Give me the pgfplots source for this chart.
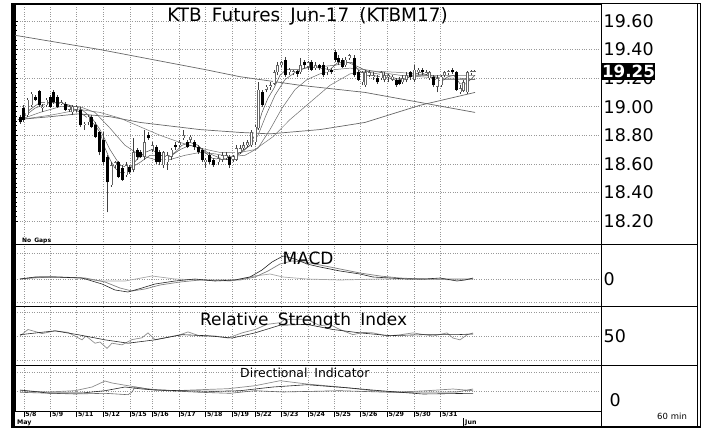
\documentclass[border=0pt]{standalone}
\usepackage{fontspec}
\setmainfont{DejaVu Sans}
\usepackage{pgfplots}
\pgfplotsset{compat=1.18}
\usepackage{pgfplotstable}

% 60-minute candles: x (bar position), open, high, low, close, t (1 = up / hollow)
\pgfplotstableread{
x o h l c t
20 18.93 18.94 18.88 18.89 0
23.5 18.99 19.01 18.89 18.91 0
27 18.94 19.06 18.93 19.05 1
31 19.01 19.10 19.00 19.09 1
35 19.07 19.08 19.04 19.05 0
39 19.11 19.12 19.00 19.01 0
42.5 18.99 19.02 18.96 19.00 1
46 19.01 19.06 19.00 19.05 1
50 19.07 19.08 18.99 19.00 0
53.5 19.10 19.12 19.02 19.03 0
57 19.07 19.08 18.99 19.00 0
61 19.02 19.05 19.01 19.03 1
65 19.02 19.03 18.97 18.98 0
69 18.98 19.01 18.96 19.00 1
72.5 18.96 19.01 18.94 19.00 1
76 18.98 19.01 18.96 19.00 1
80 18.98 19.00 18.86 18.87 0
84 18.87 18.89 18.84 18.88 1
88 18.89 18.94 18.87 18.93 1
91.5 18.93 18.94 18.85 18.86 0
95.5 18.87 18.89 18.78 18.79 0
99.5 18.82 18.83 18.66 18.68 0
103 18.77 18.82 18.59 18.61 0
107 18.65 18.66 18.26 18.47 0
111 18.45 18.61 18.44 18.59 1
115 18.59 18.62 18.57 18.61 1
118.5 18.61 18.62 18.50 18.51 0
122.5 18.57 18.59 18.48 18.49 0
126 18.52 18.61 18.51 18.59 1
129.5 18.58 18.59 18.53 18.54 0
133.5 18.56 18.78 18.54 18.68 1
137 18.70 18.71 18.63 18.65 0
140.5 18.68 18.70 18.64 18.65 0
144.5 18.65 18.84 18.63 18.75 1
148.5 18.80 18.82 18.77 18.78 0
152 18.70 18.75 18.68 18.73 1
156 18.72 18.73 18.60 18.61 0
159.5 18.68 18.70 18.59 18.61 0
163.5 18.59 18.69 18.57 18.68 1
167 18.61 18.68 18.56 18.66 1
171 18.65 18.71 18.63 18.70 1
175 18.73 18.75 18.70 18.72 0
179 18.73 18.77 18.72 18.75 1
183 18.78 18.84 18.77 18.80 1
187 18.75 18.77 18.71 18.72 0
190.5 18.77 18.80 18.75 18.79 1
194.5 18.75 18.77 18.70 18.72 0
198.5 18.72 18.73 18.67 18.68 0
202 18.70 18.71 18.61 18.63 0
205.5 18.61 18.64 18.57 18.63 1
209.5 18.66 18.68 18.60 18.61 0
213.5 18.63 18.64 18.58 18.59 0
218 18.61 18.66 18.59 18.64 1
222 18.63 18.68 18.61 18.66 1
226 18.64 18.68 18.63 18.66 1
229.5 18.65 18.66 18.57 18.59 0
233 18.63 18.66 18.61 18.65 1
236 18.63 18.73 18.62 18.71 1
240 18.68 18.73 18.67 18.71 1
243.5 18.71 18.75 18.70 18.73 1
247.5 18.73 18.77 18.72 18.75 1
251.5 18.73 18.84 18.72 18.82 1
255 18.75 18.87 18.73 18.86 1
258.5 18.85 19.17 18.84 19.12 1
262 19.10 19.12 19.00 19.01 0
266 19.12 19.15 19.10 19.14 1
270 19.14 19.17 19.12 19.15 1
274 19.16 19.26 19.15 19.24 1
277.5 19.24 19.31 19.22 19.29 1
281.5 19.29 19.32 19.28 19.31 1
285 19.33 19.35 19.21 19.22 0
289 19.24 19.27 19.22 19.26 1
293 19.24 19.26 19.22 19.25 1
297 19.25 19.26 19.21 19.23 0
300.5 19.24 19.34 19.23 19.29 1
304 19.31 19.33 19.27 19.29 0
308 19.28 19.32 19.26 19.31 1
311.5 19.31 19.33 19.25 19.26 0
315.5 19.27 19.31 19.26 19.29 1
319.5 19.29 19.30 19.26 19.27 0
323.5 19.29 19.31 19.21 19.22 0
327 19.24 19.28 19.22 19.26 1
331 19.26 19.27 19.23 19.24 0
335 19.38 19.40 19.31 19.33 0
338.5 19.34 19.36 19.29 19.31 0
342 19.33 19.34 19.27 19.28 0
345.5 19.29 19.35 19.28 19.33 1
349 19.34 19.37 19.33 19.36 1
354 19.34 19.36 19.21 19.22 0
358 19.24 19.26 19.18 19.19 0
362 19.17 19.25 19.15 19.24 1
365.5 19.15 19.26 19.14 19.24 1
369 19.22 19.26 19.21 19.24 1
373 19.21 19.24 19.19 19.22 1
377 19.20 19.22 19.16 19.17 0
381 19.20 19.25 19.19 19.24 1
384.5 19.19 19.24 19.17 19.22 1
388.5 19.21 19.23 19.17 19.22 1
392.5 19.19 19.22 19.18 19.21 1
396 19.19 19.20 19.14 19.15 0
399.5 19.19 19.21 19.15 19.16 0
402.5 19.17 19.22 19.16 19.20 1
406.5 19.19 19.24 19.17 19.22 1
410 19.24 19.25 19.19 19.21 0
414.5 19.19 19.29 19.17 19.26 1
418.5 19.24 19.27 19.22 19.26 1
422 19.26 19.27 19.22 19.24 0
426 19.23 19.26 19.22 19.24 1
429.5 19.20 19.25 19.19 19.24 1
433.5 19.21 19.22 19.14 19.15 0
437 19.14 19.22 19.10 19.20 1
441 19.15 19.22 19.14 19.21 1
444.5 19.22 19.25 19.21 19.24 1
448.5 19.24 19.26 19.22 19.25 1
452.5 19.26 19.27 19.23 19.24 0
456 19.24 19.25 19.11 19.12 0
460 19.10 19.15 19.09 19.13 1
463.5 19.11 19.19 19.10 19.17 1
467.5 19.10 19.25 19.09 19.24 1
471.5 19.24 19.26 19.22 19.25 1
474.5 19.24 19.26 19.24 19.25 1
}\candles

\pgfplotsset{
  panel/.style={
    scale only axis, anchor=south west, width=586bp,
    xmin=15, xmax=601,
    xtick={24,50.7,76.7,103.3,130,152,179,205.7,232.3,255,281.7,308.3,334.3,360.7,387.3,414,440.7},
    grid=major,
    major grid style={dotted, black!40, line width=0.5bp},
    axis line style={black, line width=0.8bp},
    ytick pos=left, yticklabel pos=right,
    tick label style={font=\fontsize{17.5}{18}\selectfont},
    yticklabel style={inner sep=0pt, xshift=2.5bp},
    xtick style={draw=none},
    ytick style={draw=none},
  },
  nolabels/.style={xticklabels={,,,,,,,,,,,,,,,,,,}},
  candle/.style={forget plot, draw=none, mark=none,
    error bars/.cd, y dir=plus, y explicit, error mark=none},
}

\begin{document}
\begin{tikzpicture}[x=1bp,y=1bp]
\useasboundingbox (0,0) rectangle (706,428);

% ---------------- main price panel ----------------
\begin{axis}[panel, nolabels, at={(15bp,184bp)}, height=240bp,
  ymin=18.039, ymax=19.719,
  ytick={18.2,18.4,18.6,18.8,19.0,19.2,19.4,19.6},
  yticklabels={18.20,18.40,18.60,18.80,19.00,19.20,19.40,19.60},
  minor y tick num=5,
  ytick style={draw=black, line width=0.6bp},
  tick align=inside, major tick length=3bp, minor tick length=2bp,
]
% long moving averages
\addplot[black!60, line width=0.7bp] coordinates {(15,19.50) (100,19.40) (205,19.26) (240,19.21) (300,19.15) (365,19.10) (420,19.03) (475,18.96)};
\addplot[black!60, line width=0.7bp] coordinates {(18,18.91) (50,18.93) (78,18.95) (110,18.93) (140,18.89) (200,18.84) (240,18.82) (270,18.81) (320,18.84) (365,18.89) (420,19.01) (475,19.10)};
% shorter moving averages
\addplot[black!55, line width=0.5bp] coordinates {(20,18.91) (50,18.94) (80,18.98) (100,18.96) (120,18.92) (140,18.86) (160,18.80) (180,18.75) (200,18.71) (220,18.68) (240,18.68) (255,18.70) (273,18.79) (290,18.91) (310,19.03) (330,19.15) (350,19.23) (370,19.25) (400,19.24) (430,19.22) (460,19.22) (475,19.22)};
\addplot[black!60, line width=0.5bp] coordinates {(20,18.91) (40,18.96) (60,19.00) (80,19.00) (95,18.96) (110,18.85) (125,18.73) (140,18.66) (155,18.63) (170,18.63) (185,18.66) (200,18.68) (215,18.67) (230,18.65) (245,18.66) (258,18.71) (270,18.84) (282,18.99) (295,19.12) (307,19.19) (320,19.23) (335,19.26) (350,19.27) (365,19.26) (380,19.24) (400,19.22) (420,19.21) (440,19.20) (460,19.20) (475,19.19)};
\addplot[black!65, line width=0.5bp] coordinates {(20,18.91) (35,18.99) (50,19.03) (65,19.02) (80,18.99) (92,18.92) (100,18.84) (110,18.70) (120,18.59) (130,18.57) (140,18.61) (150,18.66) (160,18.66) (170,18.65) (180,18.70) (190,18.73) (200,18.71) (210,18.67) (220,18.64) (230,18.63) (240,18.67) (250,18.73) (258,18.80) (266,18.94) (275,19.08) (285,19.19) (295,19.24) (305,19.27) (320,19.28) (335,19.29) (348,19.31) (358,19.28) (370,19.24) (385,19.22) (400,19.19) (415,19.22) (430,19.22) (445,19.19) (460,19.19) (475,19.19)};
\addplot[black!70, line width=0.5bp] coordinates {(20,18.91) (30,18.98) (40,19.03) (50,19.03) (60,19.03) (70,19.00) (80,18.96) (88,18.92) (95,18.87) (100,18.82) (105,18.71) (110,18.63) (115,18.57) (120,18.54) (126,18.54) (132,18.59) (138,18.64) (145,18.68) (152,18.70) (160,18.66) (168,18.65) (175,18.68) (182,18.73) (190,18.75) (198,18.73) (205,18.68) (212,18.64) (220,18.63) (228,18.63) (236,18.66) (244,18.70) (250,18.73) (256,18.82) (262,18.96) (268,19.06) (274,19.13) (280,19.22) (286,19.26) (292,19.26) (300,19.26) (310,19.28) (320,19.27) (330,19.26) (338,19.31) (345,19.31) (352,19.31) (358,19.26) (365,19.22) (372,19.22) (380,19.21) (390,19.20) (398,19.18) (405,19.19) (412,19.22) (420,19.24) (428,19.22) (436,19.19) (442,19.18) (448,19.21) (454,19.22) (460,19.16) (466,19.16) (472,19.20) (475,19.22)};
% wicks
\addplot[candle, error bar style={draw=black!75, line width=0.7bp}]
  table[x=x, y=l, y error expr=\thisrow{h}-\thisrow{l}] {\candles};
% bodies of down candles
\addplot[restrict expr to domain={\thisrow{t}}{-0.5:0.5}, candle, error bar style={draw=black, line width=3bp}]
  table[x=x, y expr={min(\thisrow{o},\thisrow{c})}, y error expr={abs(\thisrow{o}-\thisrow{c})}] {\candles};
% bodies of up candles (hollow)
\addplot[restrict expr to domain={\thisrow{t}}{0.5:1.5}, candle, error bar style={draw=black!60, line width=3bp}]
  table[x=x, y expr={min(\thisrow{o},\thisrow{c})}, y error expr={abs(\thisrow{o}-\thisrow{c})}] {\candles};
\addplot[restrict expr to domain={\thisrow{t}}{0.5:1.5}, candle, error bar style={draw=white, line width=1.4bp}]
  table[x=x, y expr={min(\thisrow{o},\thisrow{c})+0.004}, y error expr={abs(\thisrow{o}-\thisrow{c})-0.008}] {\candles};
\end{axis}

% ---------------- MACD ----------------
\begin{axis}[panel, nolabels, at={(15bp,122bp)}, height=62bp,
  ymin=-27, ymax=35, ytick={-23,0,26}, yticklabels={,0,}]
\addplot[black!35, line width=0.7bp] coordinates {(20,0) (50,2) (80,1) (102,-2) (125,-2) (152,3) (175,0) (200,-1) (230,-2) (255,3) (270,5) (283,2) (307,0) (340,-1) (380,0) (420,0) (460,-1) (473,0)};
\addplot[black!50, line width=0.7bp] coordinates {(20,0) (40,2) (60,2) (85,1) (105,-3) (120,-9) (132,-12) (145,-10) (160,-6) (180,-3) (200,-1) (220,-1) (240,-1) (255,2) (268,8) (280,15) (292,18) (305,17) (320,14) (340,10) (360,6) (380,3) (400,1) (420,0) (440,0) (460,0) (473,0)};
\addplot[black!85, line width=0.6bp] coordinates {(20,0) (35,2) (55,2) (82,1) (102,-5) (115,-11) (128,-13) (142,-9) (155,-5) (175,-2) (195,0) (215,-2) (235,-1) (250,2) (262,9) (272,17) (283,23) (295,20) (307,15) (320,12) (340,8) (360,5) (373,2) (390,1) (407,0) (425,0) (440,1) (457,-2) (465,-1) (473,1)};
\end{axis}

% ---------------- RSI ----------------
\begin{axis}[panel, nolabels, at={(15bp,63bp)}, height=59bp,
  ymin=25.83, ymax=75, ytick={30,50,70}, yticklabels={,50,}]
\addplot[black!45, line width=0.7bp] coordinates {(20,50) (28,55.4) (34,54) (42,52) (55,54.3) (68,53) (82,46.8) (86,50) (95,44) (100,45) (107,39.7) (112,44) (122,42.6) (132,47) (142,48.5) (148,52.6) (155,47) (165,48.5) (180,51) (188,53.4) (200,50) (215,50) (228,48.3) (242,52.6) (255,55.4) (267,59.7) (280,61.1) (285,63.9) (307,63.9) (320,58.6) (330,59.5) (340,55.4) (353,51.1) (363,53) (373,52.6) (387,50) (400,51) (413,52.6) (425,51) (433,50) (447,52.6) (453,48.3) (460,46.8) (467,51) (473,52.6)};
\addplot[black!85, line width=0.6bp] coordinates {(20,51.1) (55,54.3) (78,51.1) (105,46.8) (128,44) (155,46.8) (182,51.1) (208,50.2) (232,48.3) (255,52.6) (280,59) (307,59.7) (333,55.4) (360,52.6) (390,50.3) (423,51.1) (457,51.1) (473,51.7)};
\end{axis}

% ---------------- Directional Indicator ----------------
\begin{axis}[panel, at={(15bp,17bp)}, height=46bp,
  ymin=-11, ymax=35, ytick={9,28}, yticklabels={,},
  extra y ticks={0}, extra y tick labels={0}, extra y tick style={grid=none},
  xtick pos=left, tick align=outside, major tick length=6bp,
  xtick style={draw=black, line width=0.6bp},
  xticklabels={5/8,5/9,5/11,5/12,5/15,5/16,5/17,5/18,5/19,5/22,5/23,5/24,5/25,5/26,5/29,5/30,5/31},
  xticklabel style={font=\fontsize{6.3}{6.5}\selectfont\bfseries, anchor=north west, inner sep=0pt, xshift=1.2bp, yshift=5bp},
]
\addplot[black!45, line width=0.7bp] coordinates {(20,9.3) (48,8) (75,9.3) (92,13) (105,19) (112,17) (128,14.3) (148,11) (175,9.3) (200,10.3) (228,11.3) (255,14.3) (280,19.3) (307,16) (340,13) (373,9.3) (400,8) (427,9.3) (453,11) (473,9.3)};
\addplot[black!60, line width=0.6bp] coordinates {(20,7.7) (75,6) (105,6.7) (128,5.3) (132,8) (135,13) (155,10) (200,7.7) (230,6.7) (255,9.3) (283,8) (340,9.3) (390,7.7) (457,8) (473,11)};
\addplot[black!85, line width=0.6bp] coordinates {(20,10) (48,7) (82,7) (105,9.3) (125,13) (142,11) (155,10) (182,9.3) (215,8.7) (240,9.3) (273,13) (307,15.3) (350,12) (380,9.3) (423,6) (473,6.7)};
\end{axis}

% ---------------- frame and texts ----------------
\draw[line width=1.6bp] (12,1.3) -- (701,1.3);
\draw[line width=1.6bp] (12,424.6) -- (701,424.6);
\draw[line width=3.5bp] (12.8,0.5) -- (12.8,425.4);
\draw[line width=1bp] (697.8,1.3) -- (697.8,424.6);
\draw[line width=1bp] (700.8,0.5) -- (700.8,425.4);
\draw[line width=0.8bp] (601,1.3) -- (601,424.6);
\draw[line width=0.8bp] (601,184) -- (698,184);
\draw[line width=0.8bp] (601,122) -- (698,122);
\draw[line width=0.8bp] (601,63) -- (698,63);

\node[anchor=base, inner sep=0pt, font=\fontsize{18.5}{18.5}\selectfont] at (307.5,406.3) {KTB\hspace{0.55em}Futures\hspace{0.55em}Jun-17\hspace{0.55em}(KTBM17)};
\node[anchor=base west, inner sep=0pt, font=\fontsize{17}{17}\selectfont] at (282.5,163.3) {MACD};
\node[anchor=base west, inner sep=0pt, font=\fontsize{17}{17}\selectfont] at (200,102.3) {Relative\hspace{0.55em}Strength\hspace{0.55em}Index};
\node[anchor=base west, inner sep=0pt, font=\fontsize{12.5}{12.5}\selectfont] at (240,50.7) {Directional\hspace{0.55em}Indicator};
\node[anchor=base west, inner sep=0pt, font=\fontsize{6}{6}\selectfont\bfseries] at (22,185.5) {No\hspace{0.5em}Gaps};
\node[anchor=base west, inner sep=0pt, font=\fontsize{6.3}{6.5}\selectfont\bfseries] at (17,3.6) {May};
\draw[line width=0.6bp] (463.5,2) -- (463.5,10.5);
\node[anchor=base west, inner sep=0pt, font=\fontsize{6.3}{6.5}\selectfont\bfseries] at (465,3.6) {Jun};
\node[anchor=base west, inner sep=0pt, font=\fontsize{8.5}{8.5}\selectfont] at (657,8.5) {60\hspace{0.35em}min};
\node[anchor=west, fill=black, text=white, inner xsep=0.3bp, inner ysep=2bp, font=\fontsize{16.8}{17}\selectfont\bfseries] at (601.5,356.3) {19.25};
\end{tikzpicture}
\end{document}
